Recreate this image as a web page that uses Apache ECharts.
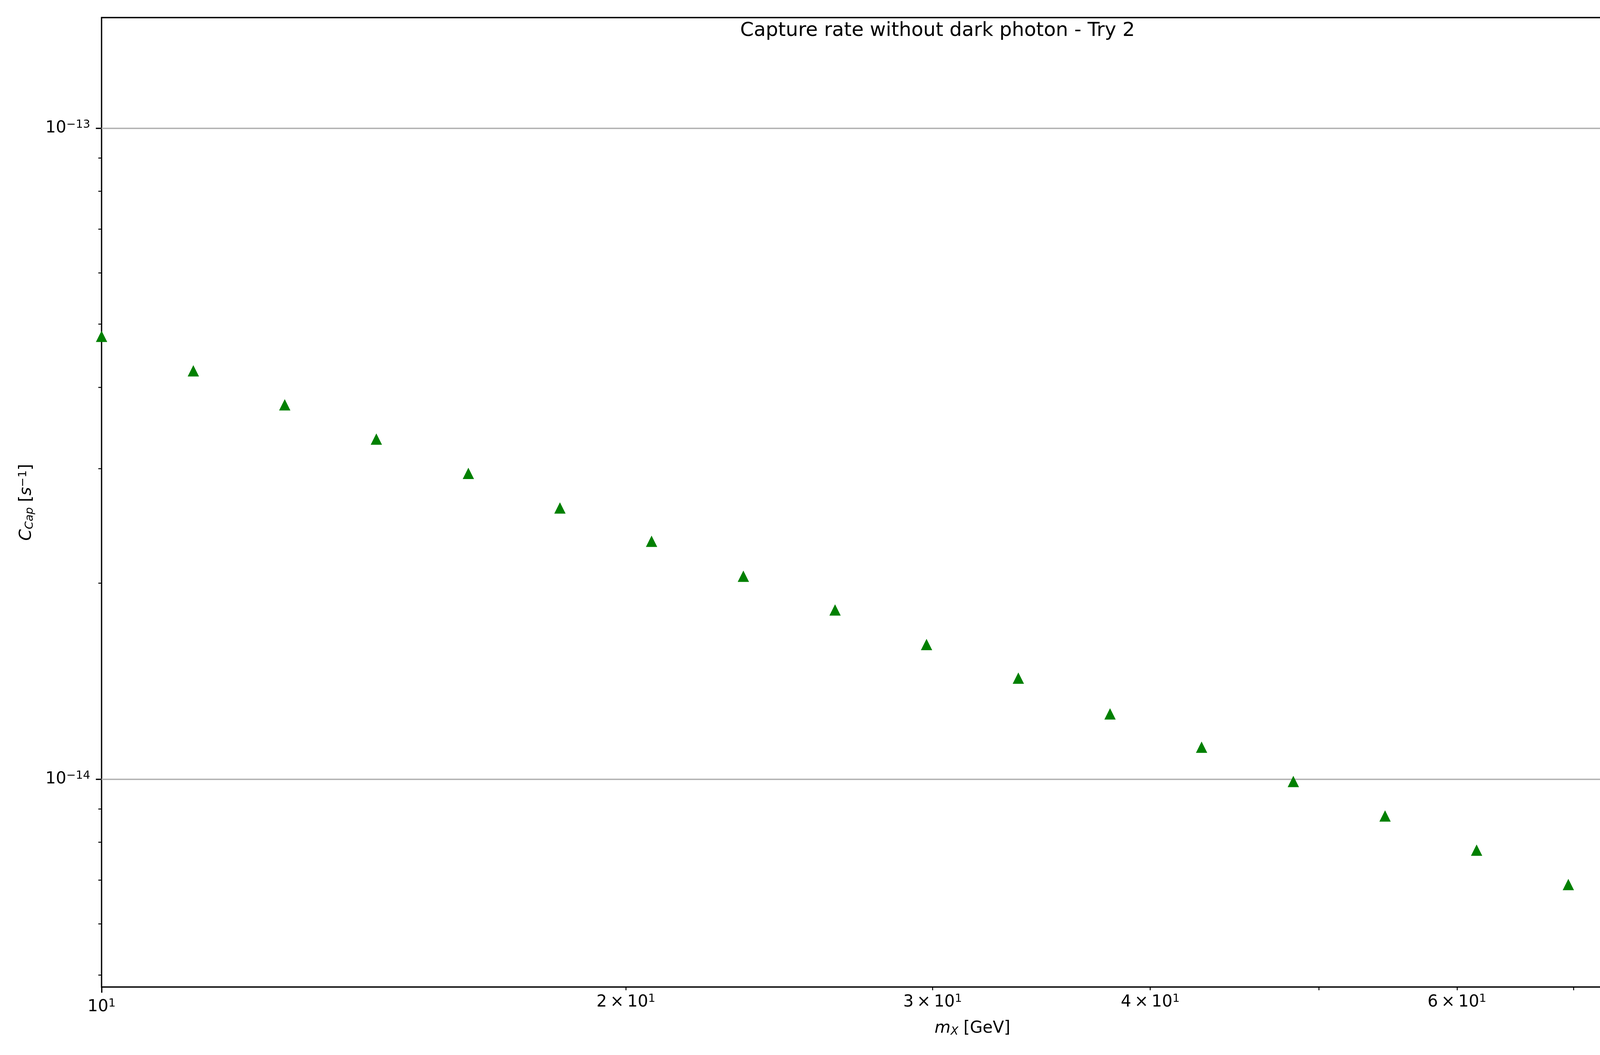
<!DOCTYPE html>
<html>
<head>
<meta charset="utf-8">
<title>Capture rate without dark photon - Try 2</title>
<script src="https://cdn.jsdelivr.net/npm/echarts@6/dist/echarts.min.js"></script>
<style>
html,body{margin:0;padding:0;background:#fff;}
#chart{width:4800px;height:2700px;}
</style>
</head>
<body>
<div id="chart"></div>
<script>
// dark matter mass [GeV]
var massGeV = [10.0, 11.29, 12.74, 14.38, 16.24, 18.33, 20.69, 23.36, 26.37, 29.76,
               33.60, 37.93, 42.81, 48.33, 54.56, 61.58, 69.52, 78.48, 88.59, 100.0];
// capture rate [1/s]
var captureRate = [4.79e-14, 4.24e-14, 3.76e-14, 3.33e-14, 2.95e-14, 2.61e-14, 2.32e-14, 2.05e-14, 1.82e-14, 1.61e-14,
                   1.43e-14, 1.26e-14, 1.12e-14, 9.92e-15, 8.78e-15, 7.78e-15, 6.89e-15, 6.10e-15, 5.41e-15, 4.80e-15];

// axis ranges and ticks
var xRange = [10, 100];
var yRange = [4.795e-15, 1.479e-13];
var xMajorTicks = [10, 100];
var xMinorTicks = [20, 30, 40, 50, 60, 70, 80, 90];
var xMinorLabeled = [20, 30, 40, 60];
var yMajorTicks = [1e-14, 1e-13];
var yMinorTicks = [5e-15, 6e-15, 7e-15, 8e-15, 9e-15, 2e-14, 3e-14, 4e-14, 5e-14, 6e-14, 7e-14, 8e-14, 9e-14];

var FONT = 'DejaVu Sans';
var lg = function (v) { return Math.log10(v); };

// 10^n or m x 10^n in rich text, v is log10 of the tick
function sciLabel(v) {
    var e = Math.floor(v + 1e-9);
    var m = Math.round(Math.pow(10, v - e));
    var exp = (e < 0 ? '\u2212' + (-e) : '' + e);
    if (m === 1) return '{b|10}{s|' + exp + '}';
    return '{b|' + m + '\u2009\u00d7\u200910}{s|' + exp + '}';
}
var tickRich = {
    b: {fontSize: 42, lineHeight: 46, fontFamily: FONT, color: '#000'},
    s: {fontSize: 29, lineHeight: 29, fontFamily: FONT, color: '#000', verticalAlign: 'top'}
};
var nameRich = {
    i: {fontSize: 42, lineHeight: 46, fontFamily: FONT, fontStyle: 'italic', color: '#000'},
    sub: {fontSize: 29, lineHeight: 29, fontFamily: FONT, fontStyle: 'italic', color: '#000', verticalAlign: 'bottom'},
    sup: {fontSize: 29, lineHeight: 29, fontFamily: FONT, color: '#000', verticalAlign: 'top'}
};

var chart = echarts.init(document.getElementById('chart'), null, {renderer: 'canvas'});
var option = {
    backgroundColor: '#fff',
    animation: false,
    title: {
        text: 'Capture rate without dark photon - Try 2',
        left: 'center',
        top: 49,
        textStyle: {fontFamily: FONT, fontSize: 50, fontWeight: 'normal', color: '#000', lineHeight: 50}
    },
    grid: {
        left: 260, right: 81, top: 45, bottom: 174,
        show: true, borderColor: '#000', borderWidth: 3.3, backgroundColor: 'transparent',
        containLabel: false, outerBoundsMode: 'none'
    },
    xAxis: [{
        // data axis
        type: 'log', logBase: 10, min: xRange[0], max: xRange[1], show: false
    }, {
        // major ticks + labels
        type: 'value', min: lg(xRange[0]), max: lg(xRange[1]), position: 'bottom',
        axisLine: {show: false},
        splitLine: {show: false},
        axisTick: {show: true, length: 14.6, lineStyle: {color: '#000', width: 3.3}, customValues: xMajorTicks.map(lg)},
        axisLabel: {show: true, margin: 28, customValues: xMajorTicks.map(lg), formatter: sciLabel, rich: tickRich},
        name: '{i|m}{sub|X} [GeV]',
        nameLocation: 'middle',
        nameGap: 83,
        nameTextStyle: {fontFamily: FONT, fontSize: 42, lineHeight: 46, color: '#000', rich: nameRich}
    }, {
        // minor ticks + labels
        type: 'value', min: lg(xRange[0]), max: lg(xRange[1]), position: 'bottom',
        axisLine: {show: false},
        splitLine: {show: false},
        axisTick: {show: true, length: 8.3, lineStyle: {color: '#000', width: 2.5}, customValues: xMinorTicks.map(lg)},
        axisLabel: {show: true, margin: 16, customValues: xMinorLabeled.map(lg), formatter: sciLabel, rich: tickRich}
    }],
    yAxis: [{
        type: 'log', logBase: 10, min: yRange[0], max: yRange[1], show: false
    }, {
        type: 'value', min: lg(yRange[0]), max: lg(yRange[1]), position: 'left',
        axisLine: {show: false},
        splitLine: {show: true, lineStyle: {color: '#b0b0b0', width: 3.3}},
        axisTick: {show: true, length: 14.6, lineStyle: {color: '#000', width: 3.3}, customValues: yMajorTicks.map(lg)},
        axisLabel: {show: true, margin: 29, customValues: yMajorTicks.map(lg), formatter: sciLabel, rich: tickRich},
        name: '{i|C}{sub|Cap} [{i|s}{sup|\u22121}]',
        nameLocation: 'middle',
        nameRotate: 90,
        nameGap: 169,
        nameTextStyle: {fontFamily: FONT, fontSize: 42, lineHeight: 46, color: '#000', rich: nameRich}
    }, {
        type: 'value', min: lg(yRange[0]), max: lg(yRange[1]), position: 'left',
        axisLine: {show: false},
        splitLine: {show: false},
        axisTick: {show: true, length: 8.3, lineStyle: {color: '#000', width: 2.5}, customValues: yMinorTicks.map(lg)},
        axisLabel: {show: false}
    }],
    series: [{
        type: 'scatter',
        xAxisIndex: 0,
        yAxisIndex: 0,
        symbol: 'triangle',
        symbolSize: 29,
        clip: true,
        itemStyle: {color: '#008000', opacity: 1},
        data: massGeV.map(function (m, i) { return [m, captureRate[i]]; })
    }]
};
chart.setOption(option);
</script>
</body>
</html>
